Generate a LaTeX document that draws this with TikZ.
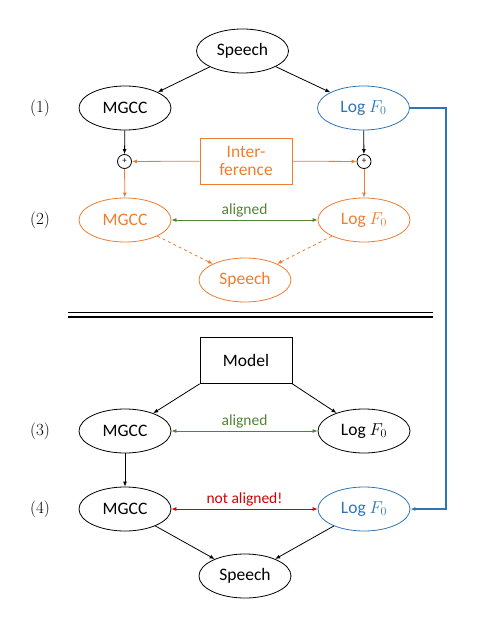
\documentclass[tikz,border=0pt]{standalone}
\usepackage{fontspec}
\setmainfont{Carlito}
\usetikzlibrary{shapes.geometric,arrows.meta}
\definecolor{oorange}{HTML}{ED7D31}
\definecolor{oblue}{HTML}{2E75B6}
\definecolor{ogreen}{HTML}{548235}
\definecolor{ored}{HTML}{D00000}
\newfontfamily\lmfont{Latin Modern Roman}
\tikzset{
  ell/.style={ellipse,draw,line width=0.8pt,minimum width=92pt,minimum height=44pt,inner sep=0pt,font=\fontsize{17.5}{20}\selectfont},
  rbox/.style={rectangle,draw,line width=0.8pt,minimum width=92pt,minimum height=46pt,inner sep=0pt,font=\fontsize{17.5}{20}\selectfont,align=center},
  sumc/.style={circle,draw,line width=0.8pt,minimum size=14pt,inner sep=0pt,font=\fontsize{9}{9}\selectfont},
  arr/.style={-{Latex[length=5pt,width=4pt]},line width=0.8pt},
  darr/.style={{Latex[length=5pt,width=4pt]}-{Latex[length=5pt,width=4pt]},line width=0.8pt},
  lbl/.style={font=\lmfont\fontsize{17}{20}\selectfont},
  small/.style={font=\fontsize{15.5}{18}\selectfont},
}
\begin{document}
\begin{tikzpicture}[x=1pt,y=-1pt]
\useasboundingbox (0,0) rectangle (485,636);
% labels
\node[lbl] (l1) at (40,108) {(1)};
\node[lbl] (l2) at (40,220) {(2)};
\node[lbl] (l3) at (40,431) {(3)};
\node[lbl] (l4) at (40,509) {(4)};
% row 1
\node[ell] (sp1) at (242.5,51) {Speech};
\node[ell] (m1) at (125,108) {MGCC};
\node[ell,draw=oblue,text=oblue] (f1) at (363.5,108) {Log $F_0$};
\draw[arr] (sp1) -- (m1);
\draw[arr] (sp1) -- (f1);
% interference
\node[sumc] (s1) at (124.5,161.5) {+};
\node[sumc] (s2) at (364,161.5) {+};
\node[rbox,draw=oorange,text=oorange] (int) at (246,161) {Inter-\\[-2pt]ference};
\draw[arr] (m1) -- (s1);
\draw[arr] (f1) -- (s2);
\draw[arr,oorange] (int) -- (s1);
\draw[arr,oorange] (int) -- (s2);
% row 2
\node[ell,draw=oorange,text=oorange] (m2) at (125,220) {MGCC};
\node[ell,draw=oorange,text=oorange] (f2) at (364,220) {Log $F_0$};
\node[ell,draw=oorange,text=oorange] (sp2) at (245,280) {Speech};
\draw[arr,oorange] (s1) -- (m2);
\draw[arr,oorange] (s2) -- (f2);
\draw[darr,ogreen] (m2) -- node[small,above,text=ogreen,inner sep=2pt] {aligned} (f2);
\draw[arr,oorange,dashed] (m2) -- (sp2);
\draw[arr,oorange,dashed] (f2) -- (sp2);
% separator
\coordinate (dl) at (68,312.5);
\coordinate (dr) at (433,312.5);
\coordinate (el) at (68,317);
\coordinate (er) at (433,317);
\draw[line width=1.4pt] (dl) -- (dr);
\draw[line width=1.4pt] (el) -- (er);
% row 3
\node[rbox] (mod) at (246,360.5) {Model};
\node[ell] (m3) at (125,431) {MGCC};
\node[ell] (f3) at (364,431) {Log $F_0$};
\draw[arr] (mod.south west) -- (m3);
\draw[arr] (mod.south east) -- (f3);
\draw[darr,ogreen] (m3) -- node[small,above,text=ogreen,inner sep=2pt] {aligned} (f3);
% row 4
\node[ell] (m4) at (125,509) {MGCC};
\node[ell,draw=oblue,text=oblue] (f4) at (364,509) {Log $F_0$};
\node[ell] (sp4) at (245,576) {Speech};
\draw[arr] (m3) -- (m4);
\draw[darr,ored] (m4) -- node[small,above,text=ored,inner sep=2pt] {not aligned!} (f4);
\draw[arr] (m4) -- (sp4);
\draw[arr] (f4) -- (sp4);
% blue feedback
\coordinate (bt) at (446,108);
\coordinate (bb) at (446,509);
\draw[arr,oblue,line width=1.2pt] (f1.east) -- (bt) -- (bb) -- (f4.east);
\end{tikzpicture}
\end{document}
